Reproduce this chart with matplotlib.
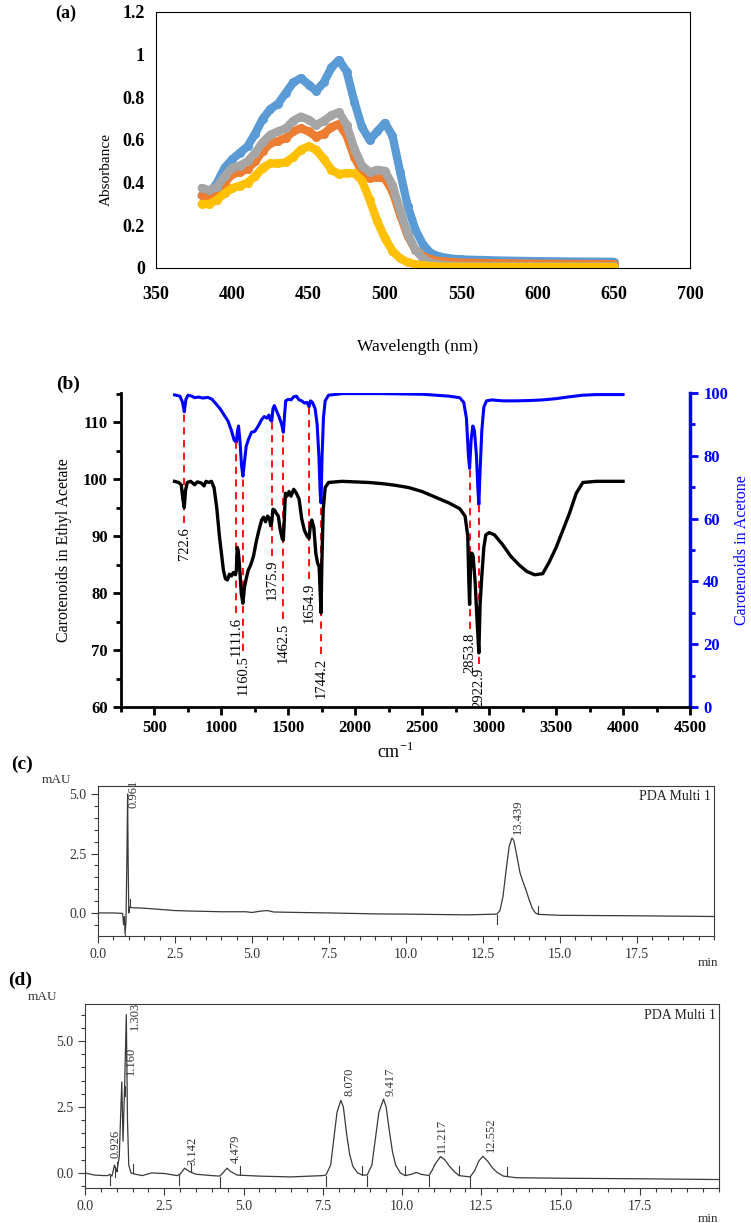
import numpy as np
import matplotlib.pyplot as plt
from matplotlib.ticker import MultipleLocator

plt.rcParams['font.family'] = ['Liberation Serif', 'DejaVu Serif']
plt.rcParams['mathtext.fontset'] = 'custom'
plt.rcParams['mathtext.rm'] = 'Liberation Serif'

# ---------------- (a) UV-Vis absorbance ----------------
wl = [380, 385, 390, 395, 400, 405, 410, 415, 420, 425, 430, 435, 440, 445, 450,
      455, 460, 465, 470, 475, 480, 485, 490, 495, 500, 505, 510, 515, 520, 525,
      530, 535, 540, 545, 550, 575, 600, 625, 650]
abs_blue = [0.34, 0.35, 0.40, 0.47, 0.51, 0.54, 0.57, 0.63, 0.70, 0.745, 0.77, 0.82, 0.87, 0.89, 0.86,
            0.83, 0.87, 0.94, 0.975, 0.92, 0.78, 0.66, 0.60, 0.64, 0.68, 0.62, 0.45, 0.29, 0.18, 0.11,
            0.07, 0.055, 0.048, 0.043, 0.040, 0.035, 0.032, 0.030, 0.029]
abs_orange = [0.34, 0.335, 0.35, 0.40, 0.44, 0.45, 0.465, 0.50, 0.55, 0.585, 0.595, 0.61, 0.64, 0.655, 0.64,
              0.615, 0.63, 0.66, 0.675, 0.62, 0.52, 0.45, 0.42, 0.425, 0.42, 0.36, 0.25, 0.15, 0.085, 0.055,
              0.04, 0.033, 0.03, 0.027, 0.025, 0.022, 0.02, 0.019, 0.018]
abs_gray = [0.375, 0.365, 0.38, 0.43, 0.47, 0.48, 0.50, 0.54, 0.59, 0.625, 0.64, 0.655, 0.69, 0.71, 0.695,
            0.67, 0.69, 0.715, 0.73, 0.67, 0.56, 0.48, 0.45, 0.46, 0.455, 0.39, 0.27, 0.16, 0.085, 0.045,
            0.025, 0.017, 0.013, 0.011, 0.01, 0.009, 0.008, 0.008, 0.008]
abs_yellow = [0.30, 0.30, 0.32, 0.35, 0.375, 0.385, 0.40, 0.43, 0.47, 0.49, 0.49, 0.495, 0.52, 0.555, 0.57,
              0.555, 0.51, 0.46, 0.44, 0.445, 0.445, 0.41, 0.32, 0.22, 0.14, 0.08, 0.045, 0.027, 0.017, 0.012,
              0.009, 0.007, 0.006, 0.006, 0.005, 0.005, 0.005, 0.005, 0.005]

# ---------------- (b) FTIR ----------------
ir_x_ea = [650, 680, 700, 712, 722.6, 732, 745, 770, 800, 820, 850, 870, 885, 905, 925, 945, 965, 985,
           1000, 1015, 1030, 1045, 1060, 1075, 1090, 1105, 1111.6, 1118, 1125, 1135, 1148, 1160.5, 1172,
           1185, 1200, 1220, 1240, 1260, 1280, 1300, 1315, 1330, 1345, 1360, 1368, 1375.9, 1385, 1398,
           1410, 1425, 1440, 1455, 1462.5, 1470, 1478, 1490, 1505, 1520, 1540, 1560, 1580, 1600, 1620,
           1640, 1654.9, 1665, 1675, 1690, 1705, 1718, 1730, 1738, 1744.2, 1750, 1760, 1775, 1800, 1900,
           2000, 2100, 2200, 2300, 2400, 2500, 2600, 2700, 2780, 2820, 2840, 2848, 2853.8, 2860, 2870,
           2880, 2895, 2910, 2922.9, 2932, 2945, 2960, 2975, 3000, 3040, 3100, 3160, 3220, 3280, 3340,
           3400, 3450, 3500, 3550, 3600, 3650, 3700, 3800, 4000]
ir_y_ea = [99.6, 99.4, 99.0, 96.5, 95.0, 98.0, 99.4, 99.6, 99.0, 99.5, 99.3, 98.8, 99.6, 99.4, 99.6, 98.5,
           95.0, 90.0, 87.0, 84.0, 82.5, 82.3, 83.3, 83.0, 83.6, 83.2, 84.0, 88.0, 87.5, 85.0, 80.0, 78.2,
           81.0, 82.5, 84.0, 85.0, 86.5, 89.0, 91.0, 92.8, 93.3, 92.5, 93.5, 93.0, 91.8, 92.5, 94.7, 94.5,
           94.0, 93.5, 91.0, 89.5, 89.3, 93.0, 97.5, 97.0, 97.8, 97.0, 98.2, 97.5, 96.5, 93.0, 91.0, 90.0,
           89.6, 92.0, 92.8, 91.5, 87.0, 85.3, 84.6, 80.0, 76.5, 85.0, 94.5, 98.5, 99.4, 99.6, 99.5, 99.4,
           99.2, 98.9, 98.5, 97.8, 96.8, 95.8, 94.8, 93.5, 90.0, 82.0, 78.0, 84.0, 87.0, 86.5, 82.0, 75.0,
           69.5, 78.0, 83.0, 88.0, 90.2, 90.6, 90.2, 88.5, 86.5, 85.0, 83.8, 83.2, 83.4, 85.5, 88.0, 91.0,
           94.0, 97.5, 99.4, 99.6, 99.6]
ir_x_ac = [650, 690, 710, 722.6, 735, 750, 780, 800, 830, 860, 900, 930, 960, 990, 1020, 1050, 1075,
           1095, 1111.6, 1120, 1128, 1140, 1150, 1160.5, 1172, 1185, 1200, 1225, 1250, 1275, 1300, 1320,
           1340, 1355, 1365, 1375.9, 1385, 1395, 1410, 1430, 1450, 1462.5, 1472, 1480, 1500, 1520, 1540,
           1560, 1580, 1600, 1620, 1640, 1654.9, 1665, 1680, 1700, 1715, 1728, 1738, 1744.2, 1752, 1762,
           1775, 1800, 1900, 2200, 2500, 2700, 2780, 2810, 2830, 2845, 2853.8, 2865, 2878, 2890, 2905,
           2915, 2922.9, 2932, 2945, 2960, 2980, 3020, 3100, 3200, 3300, 3400, 3500, 3600, 3700, 3800, 4000]
ir_y_ac = [99.4, 99.0, 97.0, 94.0, 98.0, 99.3, 99.0, 98.5, 98.7, 98.4, 98.6, 98.0, 96.5, 95.0, 93.0, 91.0,
           88.0, 85.0, 84.3, 88.0, 89.5, 84.0, 77.0, 73.5, 78.0, 83.0, 85.0, 87.5, 87.8, 89.5, 91.5, 92.5,
           92.0, 93.0, 91.5, 91.0, 95.0, 96.0, 94.5, 92.5, 90.0, 87.5, 93.0, 97.5, 98.0, 97.8, 98.8, 99.0,
           97.8, 97.5, 96.8, 97.0, 95.6, 97.5, 97.0, 95.0, 90.0, 80.0, 68.0, 65.0, 80.0, 92.0, 97.5, 99.3,
           99.8, 99.8, 99.6, 99.0, 98.5, 97.0, 92.0, 80.0, 76.0, 85.0, 89.5, 88.0, 80.0, 70.0, 64.5, 75.0,
           88.0, 95.5, 97.5, 97.8, 97.5, 97.5, 97.6, 97.8, 98.2, 98.8, 99.3, 99.5, 99.5]
ir_peaks = [722.6, 1111.6, 1160.5, 1375.9, 1462.5, 1654.9, 1744.2, 2853.8, 2922.9]
ir_peak_labels = ['722.6', '1111.6', '1160.5', '1375.9', '1462.5', '1654.9', '1744.2', '2853.8', '2922.9']
ir_label_top = [91.6, 75.8, 69.1, 85.8, 74.7, 81.8, 68.6, 73.0, 66.8]   # label anchor (left-axis units)

# ---------------- (c) HPLC, ethyl acetate ----------------
c_t = [0.0, 0.5, 0.8, 0.83, 0.86, 0.88, 0.91, 0.94, 0.961, 0.98, 1.0, 1.03, 1.1, 1.5, 2.0, 2.5, 3.0,
       4.0, 4.8, 5.0, 5.3, 5.5, 5.7, 6.5, 7.5, 9.0, 10.0, 12.0, 12.95, 13.05, 13.15, 13.25, 13.35,
       13.44, 13.5, 13.6, 13.7, 13.8, 13.9, 14.0, 14.1, 14.2, 14.3, 15.0, 17.5, 20.0]
c_mau = [0.0, 0.0, -0.02, -0.5, -0.15, -0.9, -0.3, 2.5, 5.0, 2.0, 0.0, 0.25, 0.22, 0.2, 0.15, 0.1, 0.08,
         0.05, 0.05, 0.02, 0.08, 0.1, 0.04, 0.02, 0.0, -0.04, -0.05, -0.08, -0.05, 0.1, 0.7, 1.8, 2.8,
         3.15, 3.05, 2.4, 1.7, 1.3, 0.95, 0.55, 0.2, 0.0, -0.06, -0.1, -0.12, -0.15]
c_peak_names = ['0.961', '13.439']
c_lab_x = [1.15, 13.62]
c_lab_y = [4.4, 3.3]
c_marks_up = [0.88, 12.95]
c_marks_down = [1.05, 14.3]

# ---------------- (d) HPLC, acetone ----------------
d_t = [0.0, 0.3, 0.6, 0.72, 0.78, 0.85, 0.93, 1.0, 1.08, 1.16, 1.2, 1.25, 1.303, 1.34, 1.38, 1.45, 1.6,
       1.8, 2.1, 2.5, 2.9, 3.0, 3.142, 3.3, 3.5, 4.0, 4.25, 4.35, 4.479, 4.6, 4.8, 5.5, 6.5, 7.5, 7.6,
       7.75, 7.85, 7.95, 8.07, 8.15, 8.25, 8.35, 8.45, 8.6, 8.75, 8.9, 9.05, 9.15, 9.27, 9.417, 9.5, 9.6,
       9.7, 9.8, 9.95, 10.1, 10.3, 10.45, 10.6, 10.85, 10.95, 11.05, 11.217, 11.35, 11.5, 11.65, 11.8,
       12.15, 12.3, 12.42, 12.552, 12.7, 12.85, 13.0, 13.2, 13.6, 15.0, 17.5, 20.0]
d_mau = [0.0, -0.08, -0.1, -0.1, -0.05, -0.12, 0.3, 0.05, 0.6, 3.45, 1.2, 3.3, 6.0, 2.0, 0.3, 0.0, -0.05,
         -0.1, 0.0, -0.02, -0.1, -0.05, 0.18, 0.05, -0.05, -0.1, -0.12, 0.0, 0.18, 0.05, -0.08, -0.12, -0.15,
         -0.1, -0.08, 0.3, 1.3, 2.3, 2.75, 2.5, 1.5, 0.7, 0.25, 0.0, -0.08, -0.08, 0.3, 1.2, 2.3, 2.8, 2.5,
         1.6, 0.8, 0.3, 0.0, -0.1, -0.05, 0.02, -0.05, -0.1, 0.1, 0.35, 0.62, 0.5, 0.25, 0.05, -0.1,
         -0.15, 0.1, 0.45, 0.63, 0.45, 0.2, 0.02, -0.12, -0.18, -0.2, -0.22, -0.25]
d_peak_names = ['0.926', '1.160', '1.303', '3.142', '4.479', '8.070', '9.417', '11.217', '12.552']
d_lab_x = [0.97, 1.45, 1.57, 3.4, 4.75, 8.33, 9.63, 11.26, 12.8]
d_lab_y = [0.57, 3.7, 5.4, 0.3, 0.38, 2.9, 2.9, 0.76, 0.8]
d_marks_up = [0.8, 0.95, 1.25, 2.95, 4.25, 7.6, 8.9, 10.85, 12.15]
d_marks_down = [1.0, 1.5, 3.35, 4.9, 8.75, 10.1, 11.8, 13.3]

W, H = 751, 1223
fig = plt.figure(figsize=(W / 100, H / 100), dpi=100)


def box(l, t, r, b):
    return [l / W, 1 - b / H, (r - l) / W, (b - t) / H]


def ftext(x, y, s, **kw):
    fig.text(x / W, 1 - y / H, s, **kw)


# ---- panel a ----
ax = fig.add_axes(box(156, 12, 690, 268))
for vals, col in [(abs_blue, '#5B9BD5'), (abs_orange, '#ED7D31'),
                  (abs_gray, '#A5A5A5'), (abs_yellow, '#FFC000')]:
    ax.plot(wl, vals, color=col, lw=6, marker='o', ms=6.5, mew=0,
            solid_capstyle='round', solid_joinstyle='round')
ax.set_xlim(350, 700)
ax.set_ylim(0, 1.2)
ax.set_xticks(range(350, 701, 50))
ax.set_yticks([0, 0.2, 0.4, 0.6, 0.8, 1, 1.2])
ax.set_yticklabels(['0', '0.2', '0.4', '0.6', '0.8', '1', '1.2'])
ax.tick_params(axis='y', length=0, labelsize=13, pad=8)
ax.tick_params(axis='x', length=0, labelsize=13, pad=13)
for lab in ax.get_xticklabels() + ax.get_yticklabels():
    lab.set_fontweight('bold')
for sp in ax.spines.values():
    sp.set_linewidth(0.8)
ftext(66, 13, '(a)', fontsize=13, fontweight='bold', ha='center', va='center')
ftext(106, 170, 'Absorbance', fontsize=11, rotation=90, ha='center', va='center')
ftext(418, 347, 'Wavelength (nm)', fontsize=12.5, ha='center', va='center')

# ---- panel b ----
bx = fig.add_axes(box(121, 393, 690, 707))
bx2 = bx.twinx()
LTOP = 115.1
bx.plot(ir_x_ea, ir_y_ea, color='black', lw=2.4, zorder=3)
bx2.plot(ir_x_ac, ir_y_ac, color='#0000FF', lw=2.2, zorder=3)
bx.set_xlim(250, 4500)
bx.set_ylim(60, LTOP)
bx2.set_ylim(0, 100)
bx.set_zorder(bx2.get_zorder() + 1)
bx.patch.set_visible(False)

blue_at = np.interp(ir_peaks, ir_x_ac, ir_y_ac)
for p, lab, ly, bv in zip(ir_peaks, ir_peak_labels, ir_label_top, blue_at):
    top = 60 + bv * (LTOP - 60) / 100
    bx.plot([p, p], [ly + 0.7, top], color='#FF0000', lw=1.3, ls=(0, (4, 3)), zorder=2)
    bx.text(p, ly, lab, rotation=90, ha='center', va='top', fontsize=10.5)

bx.xaxis.set_major_locator(MultipleLocator(500))
bx.xaxis.set_minor_locator(MultipleLocator(250))
bx.yaxis.set_major_locator(MultipleLocator(10))
bx.yaxis.set_minor_locator(MultipleLocator(5))
bx2.yaxis.set_major_locator(MultipleLocator(20))
bx2.yaxis.set_minor_locator(MultipleLocator(10))
bx.set_xticks(range(500, 4501, 500))
bx.tick_params(which='major', direction='out', length=6, width=2, labelsize=12)
bx.tick_params(which='minor', direction='out', length=3.5, width=2)
bx2.tick_params(which='major', direction='out', length=6, width=2, labelsize=12,
                color='#0000FF', labelcolor='#0000FF')
bx2.tick_params(which='minor', direction='out', length=3.5, width=2, color='#0000FF')
for lab in bx.get_xticklabels() + bx.get_yticklabels() + bx2.get_yticklabels():
    lab.set_fontweight('bold')
for a in (bx, bx2):
    a.spines['top'].set_visible(False)
    a.spines['left'].set_linewidth(2)
    a.spines['bottom'].set_linewidth(2)
    a.spines['right'].set_linewidth(2.5)
    a.spines['right'].set_color('#0000FF')
bx.spines['right'].set_visible(False)
bx2.spines['left'].set_visible(False)
bx2.spines['bottom'].set_visible(False)
bx.set_ylabel('Carotenoids in Ethyl Acetate', fontsize=11.5, labelpad=8)
bx2.set_ylabel('Carotenoids in Acetone', fontsize=11.5, color='#0000FF', labelpad=4)
ftext(68, 384, '(b)', fontsize=14, fontweight='bold', ha='center', va='center')
ftext(395, 752, r'cm$^{\mathregular{-1}}$', fontsize=13, ha='center', va='center')


# ---- panels c, d ----
def chrom(rect, t, y, ylim, names, lx, ly, ups, downs):
    a = fig.add_axes(rect)
    col = '#3a3a3a'
    a.plot(t, y, color=col, lw=0.9)
    a.set_xlim(0, 20)
    a.set_ylim(*ylim)
    a.xaxis.set_major_locator(MultipleLocator(2.5))
    a.xaxis.set_minor_locator(MultipleLocator(0.5))
    a.yaxis.set_major_locator(MultipleLocator(2.5))
    a.yaxis.set_minor_locator(MultipleLocator(0.5))
    a.set_xticks([0, 2.5, 5, 7.5, 10, 12.5, 15, 17.5])
    a.xaxis.set_major_formatter(plt.FormatStrFormatter('%.1f'))
    a.yaxis.set_major_formatter(plt.FormatStrFormatter('%.1f'))
    a.tick_params(which='major', direction='out', length=5, width=0.8, color=col,
                  labelsize=10, labelcolor='#333333')
    a.tick_params(which='minor', direction='out', length=3, width=0.8, color=col)
    for sp in a.spines.values():
        sp.set_linewidth(0.8)
        sp.set_color(col)
    for s, x0, y0 in zip(names, lx, ly):
        a.text(x0, y0, s, rotation=90, ha='center', va='bottom', fontsize=9, color='#333333')
    for m in ups:
        b0 = np.interp(m, t, y)
        a.plot([m, m], [b0 - 0.4, b0 - 0.02], color=col, lw=0.8)
    for m in downs:
        b0 = np.interp(m, t, y)
        a.plot([m, m], [b0 + 0.02, b0 + 0.35], color=col, lw=0.8)
    a.text(0.995, 0.975, 'PDA Multi 1', transform=a.transAxes, ha='right', va='top',
           fontsize=10, color='#222222')
    return a


chrom(box(98, 786, 714, 936), c_t, c_mau, (-0.97, 5.34), c_peak_names, c_lab_x, c_lab_y,
      c_marks_up, c_marks_down)
ftext(22, 764, '(c)', fontsize=14, fontweight='bold', ha='center', va='center')
ftext(57, 780, 'mAU', fontsize=9.5, ha='center', va='center', color='#333333')
ftext(708, 963, 'min', fontsize=9.5, ha='center', va='center', color='#333333')

chrom(box(85, 1004, 719, 1188), d_t, d_mau, (-0.57, 6.4), d_peak_names, d_lab_x, d_lab_y,
      d_marks_up, d_marks_down)
ftext(20, 980, '(d)', fontsize=14, fontweight='bold', ha='center', va='center')
ftext(43, 997, 'mAU', fontsize=9.5, ha='center', va='center', color='#333333')
ftext(708, 1219, 'min', fontsize=9.5, ha='center', va='center', color='#333333')

fig.savefig('out.png', dpi=100)
